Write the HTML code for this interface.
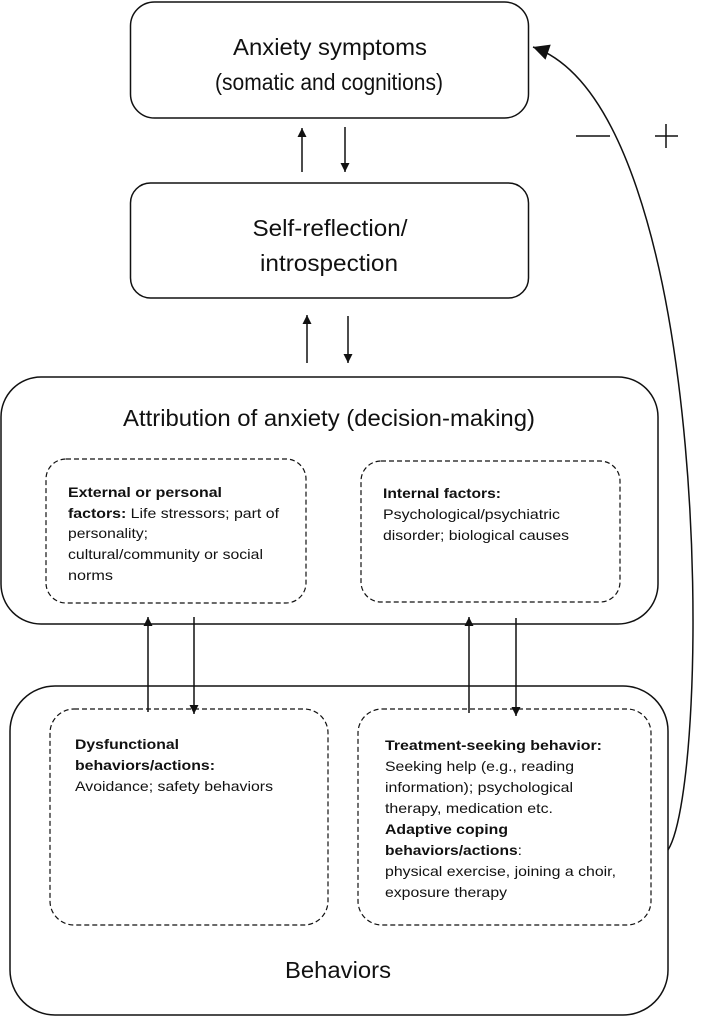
<!DOCTYPE html>
<html><head><meta charset="utf-8"><style>
html,body{margin:0;padding:0;background:#fff;}
svg{display:block;}
text{font-family:"Liberation Sans",Arial,sans-serif;fill:#111;}
.t{font-size:23px;}
.s{font-size:14px;}
.b{font-weight:bold;}
</style></head><body>
<svg width="705" height="1016" viewBox="0 0 705 1016" xmlns="http://www.w3.org/2000/svg">
<defs>
<marker id="ah" viewBox="0 0 10 10" refX="10" refY="5" markerWidth="11" markerHeight="9" markerUnits="userSpaceOnUse" orient="auto"><path d="M0,0 L10,5 L0,10 z" fill="#111"/></marker>
<marker id="big" viewBox="0 0 10 10" refX="10" refY="5" markerWidth="18" markerHeight="16" markerUnits="userSpaceOnUse" orient="auto"><path d="M0,0 L10,5 L0,10 z" fill="#111"/></marker>
</defs>
<g fill="none" stroke="#111" stroke-width="1.5">
<rect x="130.5" y="2" width="398" height="116" rx="24"/>
<rect x="130.5" y="183" width="398" height="115" rx="20"/>
<rect x="1" y="377" width="657" height="247" rx="40"/>
<rect x="10" y="686" width="658" height="329" rx="45"/>
</g>
<g fill="none" stroke="#111" stroke-width="1.2" stroke-dasharray="5,3">
<rect x="46" y="459" width="260" height="144" rx="20"/>
<rect x="361" y="461" width="259" height="141" rx="20"/>
<rect x="50" y="709" width="278" height="216" rx="24"/>
<rect x="358" y="709" width="293" height="216" rx="24"/>
</g>
<g stroke="#111" stroke-width="1.5">
<line x1="302" y1="172" x2="302" y2="128" marker-end="url(#ah)"/>
<line x1="345" y1="127" x2="345" y2="172" marker-end="url(#ah)"/>
<line x1="307" y1="363" x2="307" y2="315" marker-end="url(#ah)"/>
<line x1="348" y1="316" x2="348" y2="363" marker-end="url(#ah)"/>
<line x1="148" y1="712" x2="148" y2="617" marker-end="url(#ah)"/>
<line x1="194" y1="617" x2="194" y2="714" marker-end="url(#ah)"/>
<line x1="469" y1="713" x2="469" y2="617" marker-end="url(#ah)"/>
<line x1="516" y1="618" x2="516" y2="716" marker-end="url(#ah)"/>
<path d="M668,850 C712,780 715,110 533,47" fill="none" marker-end="url(#big)"/>
<line x1="576" y1="136" x2="610" y2="136"/>
<line x1="655" y1="136" x2="678" y2="136"/>
<line x1="666" y1="124" x2="666" y2="148"/>
</g>
<text class="t" x="330" y="55" text-anchor="middle" textLength="194" lengthAdjust="spacingAndGlyphs">Anxiety symptoms</text>
<text class="t" x="329" y="90" text-anchor="middle" textLength="228" lengthAdjust="spacingAndGlyphs">(somatic and cognitions)</text>
<text class="t" x="330" y="236" text-anchor="middle" textLength="155" lengthAdjust="spacingAndGlyphs">Self-reflection/</text>
<text class="t" x="329" y="271" text-anchor="middle" textLength="138" lengthAdjust="spacingAndGlyphs">introspection</text>
<text class="t" x="329" y="426" text-anchor="middle" textLength="412" lengthAdjust="spacingAndGlyphs">Attribution of anxiety (decision-making)</text>
<text class="t" x="338" y="978" text-anchor="middle" textLength="106" lengthAdjust="spacingAndGlyphs">Behaviors</text>
<g class="s">
<text x="68" y="497" class="b" textLength="154" lengthAdjust="spacingAndGlyphs">External or personal</text>
<text x="68" y="518" textLength="211" lengthAdjust="spacingAndGlyphs"><tspan class="b">factors:</tspan> Life stressors; part of</text>
<text x="68" y="538" textLength="80" lengthAdjust="spacingAndGlyphs">personality;</text>
<text x="68" y="559" textLength="195" lengthAdjust="spacingAndGlyphs">cultural/community or social</text>
<text x="68" y="580" textLength="45" lengthAdjust="spacingAndGlyphs">norms</text>
<text x="383" y="498" class="b" textLength="118" lengthAdjust="spacingAndGlyphs">Internal factors:</text>
<text x="383" y="519" textLength="177" lengthAdjust="spacingAndGlyphs">Psychological/psychiatric</text>
<text x="383" y="540" textLength="186" lengthAdjust="spacingAndGlyphs">disorder; biological causes</text>
<text x="75" y="749" class="b" textLength="104" lengthAdjust="spacingAndGlyphs">Dysfunctional</text>
<text x="75" y="770" class="b" textLength="140" lengthAdjust="spacingAndGlyphs">behaviors/actions:</text>
<text x="75" y="791" textLength="198" lengthAdjust="spacingAndGlyphs">Avoidance; safety behaviors</text>
<text x="385" y="750" class="b" textLength="217" lengthAdjust="spacingAndGlyphs">Treatment-seeking behavior:</text>
<text x="385" y="771" textLength="189" lengthAdjust="spacingAndGlyphs">Seeking help (e.g., reading</text>
<text x="385" y="792" textLength="188" lengthAdjust="spacingAndGlyphs">information); psychological</text>
<text x="385" y="813" textLength="168" lengthAdjust="spacingAndGlyphs">therapy, medication etc.</text>
<text x="385" y="834" class="b" textLength="123" lengthAdjust="spacingAndGlyphs">Adaptive coping</text>
<text x="385" y="855" textLength="137" lengthAdjust="spacingAndGlyphs"><tspan class="b">behaviors/actions</tspan>:</text>
<text x="385" y="876" textLength="231" lengthAdjust="spacingAndGlyphs">physical exercise, joining a choir,</text>
<text x="385" y="897" textLength="122" lengthAdjust="spacingAndGlyphs">exposure therapy</text>
</g>
</svg>
</body></html>
